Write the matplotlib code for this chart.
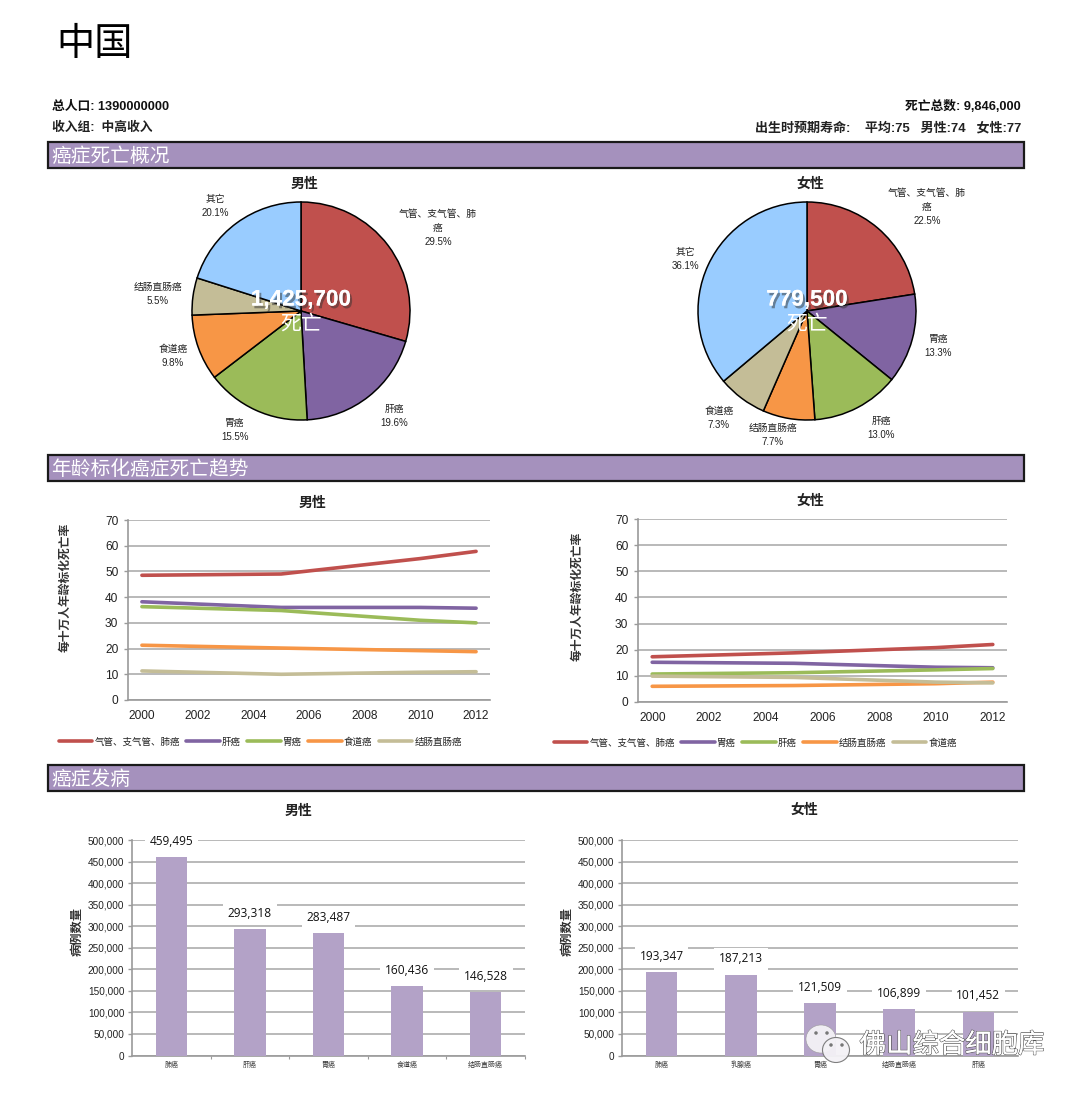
import matplotlib
matplotlib.use('Agg')
import matplotlib.pyplot as plt
import matplotlib.patheffects as pe
from matplotlib.patches import Ellipse, Rectangle

W, H = 1080, 1094
CJK = ['Liberation Sans', 'Noto Sans CJK SC', 'DejaVu Sans']
plt.rcParams['font.family'] = CJK

# Colours
RED, PURPLE, GREEN, ORANGE, TAN, BLUE = '#C0504D', '#8064A2', '#9BBB59', '#F79646', '#C4BD97', '#99CCFF'
BAR = '#B3A2C7'
HEADER = '#A591BD'
GRID = '#ADADAD'

# Pie data
pie_male_labels = ['气管、支气管、肺\n癌', '肝癌', '胃癌', '食道癌', '结肠直肠癌', '其它']
pie_male_values = [29.5, 19.6, 15.5, 9.8, 5.5, 20.1]
pie_female_labels = ['气管、支气管、肺\n癌', '胃癌', '肝癌', '结肠直肠癌', '食道癌', '其它']
pie_female_values = [22.5, 13.3, 13.0, 7.7, 7.3, 36.1]

# Trend data
years = [2000, 2005, 2010, 2012]
year_ticks = [2000, 2002, 2004, 2006, 2008, 2010, 2012]
male_trend_names = ['气管、支气管、肺癌', '肝癌', '胃癌', '食道癌', '结肠直肠癌']
male_lung = [48.5, 49.0, 55.0, 57.8]
male_liver = [38.2, 36.0, 36.0, 35.7]
male_stomach = [36.3, 34.8, 31.0, 30.0]
male_esoph = [21.3, 20.2, 19.2, 18.8]
male_colorectal = [11.3, 10.0, 10.8, 11.0]
female_trend_names = ['气管、支气管、肺癌', '胃癌', '肝癌', '结肠直肠癌', '食道癌']
female_lung = [17.3, 18.8, 20.8, 22.0]
female_stomach = [15.2, 14.8, 13.3, 13.1]
female_liver = [10.7, 11.2, 12.3, 12.8]
female_colorectal = [6.0, 6.3, 7.0, 7.6]
female_esoph = [9.9, 9.4, 7.6, 7.3]

# Incidence data
inc_male_names = ['肺癌', '肝癌', '胃癌', '食道癌', '结肠直肠癌']
inc_male_values = [459495, 293318, 283487, 160436, 146528]
inc_female_names = ['肺癌', '乳腺癌', '胃癌', '结肠直肠癌', '肝癌']
inc_female_values = [193347, 187213, 121509, 106899, 101452]

fig = plt.figure(figsize=(W / 100, H / 100), dpi=100, facecolor='white')


def px_axes(l, t, r, b):
    return fig.add_axes([l / W, 1 - b / H, (r - l) / W, (b - t) / H])


def ptext(x, y, s, **kw):
    kw.setdefault('va', 'center')
    return fig.text(x / W, 1 - y / H, s, **kw)


def style_axes(ax):
    for s in ['top', 'right']:
        ax.spines[s].set_visible(False)
    for s in ['left', 'bottom']:
        ax.spines[s].set_color('#9a9a9a')
        ax.spines[s].set_linewidth(1.2)
    ax.set_axisbelow(True)
    ax.yaxis.grid(True, color=GRID, linewidth=1.2)
    ax.xaxis.grid(False)
    ax.patch.set_alpha(0)


# Page overlay for the header bands
page = fig.add_axes([0, 0, 1, 1], zorder=0)
page.set_xlim(0, W)
page.set_ylim(H, 0)
page.axis('off')

ptext(56, 45, '中国', fontsize=27.5, color='black', family=['Noto Sans CJK SC'])
ptext(52, 107, '总人口: 1390000000', fontsize=9.2, fontweight='bold', color='#111111')
ptext(52, 128, '收入组:  中高收入', fontsize=9.2, fontweight='bold', color='#222222')
ptext(1021, 107, '死亡总数: 9,846,000', fontsize=9.2, fontweight='bold', ha='right', color='#111111')
ptext(1021, 128, '出生时预期寿命:    平均:75   男性:74   女性:77', fontsize=9.4, fontweight='bold', ha='right', color='#222222')

for top, name in [(142, '癌症死亡概况'), (455, '年龄标化癌症死亡趋势'), (765, '癌症发病')]:
    page.add_patch(Rectangle((48, top), 976, 26, facecolor=HEADER, edgecolor='#1a1a1a', linewidth=1.6))
    ptext(51, top + 14, name, fontsize=14.2, color='white', zorder=5)

# Pies
pie_colors = [RED, PURPLE, GREEN, ORANGE, TAN, BLUE]


def draw_pie(cx, cy, values, total, title, tx):
    ax = px_axes(cx - 110, cy - 110, cx + 110, cy + 110)
    ax.pie(values, colors=pie_colors, startangle=90, counterclock=False, radius=109 / 110,
           wedgeprops={'edgecolor': 'black', 'linewidth': 1.1})
    ax.set_xlim(-1, 1)
    ax.set_ylim(-1, 1)
    ptext(tx, 184, title, fontsize=10, fontweight='bold', ha='center', color='#222222')
    ptext(cx, cy - 11, total, fontsize=16.2, fontweight='bold', color='white', ha='center', zorder=6,
          path_effects=[pe.withSimplePatchShadow(offset=(1.5, -2), shadow_rgbFace='#333333', alpha=0.5),
                        pe.Normal()])
    ptext(cx, cy + 13, '死亡', fontsize=15, color='white', ha='center', zorder=6)


draw_pie(301, 311, pie_male_values, '1,425,700', '男性', 304)
draw_pie(807, 311, pie_female_values, '779,500', '女性', 810)

male_label_pos = [(438, 228), (394, 416), (235, 430), (173, 356), (158, 294), (215, 206)]
female_label_pos = [(927, 207), (938, 346), (881, 428), (773, 435), (719, 418), (685, 259)]
for labels, values, spots in [(pie_male_labels, pie_male_values, male_label_pos),
                              (pie_female_labels, pie_female_values, female_label_pos)]:
    for name, v, (x, y) in zip(labels, values, spots):
        ptext(x, y, f'{name}\n{v}%', fontsize=7, ha='center', color='#222222', linespacing=1.45)

# Trend lines
male_series = [male_lung, male_liver, male_stomach, male_esoph, male_colorectal]
female_series = [female_lung, female_stomach, female_liver, female_colorectal, female_esoph]
line_colors = [RED, PURPLE, GREEN, ORANGE, TAN]

trend_setup = [
    ((128, 520, 490, 700), male_series, male_trend_names, '男性', (312, 503), (65, 587), (50, 734)),
    ((638, 519, 1007, 702), female_series, female_trend_names, '女性', (810, 501), (577, 596), (545, 735)),
]
for box, series, names, title, tpos, ypos, lpos in trend_setup:
    ax = px_axes(*box)
    style_axes(ax)
    handles = []
    for vals, c, n in zip(series, line_colors, names):
        line, = ax.plot(years, vals, color=c, linewidth=2.6, label=n, solid_capstyle='round')
        handles.append(line)
    ax.set_xlim(1999.5, 2012.5)
    ax.set_ylim(0, 70)
    ax.set_xticks(year_ticks)
    ax.set_yticks(range(0, 71, 10))
    ax.tick_params(axis='x', length=0, labelsize=8.6, pad=7, labelcolor='#222222')
    ax.tick_params(axis='y', length=3, width=1, color='#9a9a9a', labelsize=8.6, pad=4, labelcolor='#222222')
    ptext(tpos[0], tpos[1], title, fontsize=10, fontweight='bold', ha='center', color='#222222')
    ptext(ypos[0], ypos[1], '每十万人年龄标化死亡率', fontsize=8.5, rotation=90, ha='center', color='#333333', fontweight='bold')
    ax.legend(handles=handles, ncols=5, frameon=False, loc='lower left',
              bbox_to_anchor=(lpos[0] / W, 1 - (lpos[1] + 21) / H), bbox_transform=fig.transFigure,
              prop={'size': 6.8, 'family': CJK}, handlelength=3.55, handletextpad=0.25, columnspacing=0.65,
              borderpad=0.4, labelcolor='#222222')

# Incidence bars
bar_setup = [
    ((132, 840, 525, 1055.5), inc_male_names, inc_male_values, '男性', (298, 811), (78, 932), True),
    ((622, 840, 1018, 1055.5), inc_female_names, inc_female_values, '女性', (804, 810), (567, 932), False),
]
for box, names, values, title, tpos, ypos, edge_ticks in bar_setup:
    ax = px_axes(*box)
    style_axes(ax)
    xs = list(range(len(names)))
    ax.bar(xs, values, width=0.4, color=BAR, zorder=3)
    ax.set_xlim(-0.5, 4.5)
    ax.set_ylim(0, 500000)
    ax.set_yticks(range(0, 500001, 50000))
    ax.set_yticklabels([f'{v:,}' for v in range(0, 500001, 50000)])
    ax.set_xticks(xs)
    ax.set_xticklabels(names)
    if edge_ticks:
        ax.set_xticks([x + 0.5 for x in xs], minor=True)
        ax.tick_params(axis='x', which='minor', length=2, width=0.8, color='#9a9a9a')
    ax.tick_params(axis='x', which='major', length=0, labelsize=5, pad=4.5, labelcolor='#333333')
    ax.tick_params(axis='y', length=3, width=1, color='#9a9a9a', labelsize=7.2, pad=2.5, labelcolor='#222222')
    for x, v in zip(xs, values):
        ax.annotate(f'{v:,}', (x, v), xytext=(0, 11.4), textcoords='offset points', ha='center', va='center',
                    fontsize=8.6, family=['Open Sans'], color='#111111', zorder=4,
                    bbox={'facecolor': 'white', 'edgecolor': 'none', 'pad': 3.5})
    ptext(tpos[0], tpos[1], title, fontsize=10, fontweight='bold', ha='center', color='#222222')
    ptext(ypos[0], ypos[1], '病例数量', fontsize=8.8, fontweight='bold', rotation=90, ha='center', color='#333333')

# Watermark
over = fig.add_axes([0, 0, 1, 1], zorder=10)
over.set_xlim(0, W)
over.set_ylim(H, 0)
over.axis('off')
over.add_patch(Ellipse((821, 1039), 30, 28, facecolor='#F4F2F6', edgecolor='#999999', linewidth=0.4, alpha=0.95))
over.add_patch(Ellipse((836, 1050), 27, 25, facecolor='#F4F2F6', edgecolor='#777777', linewidth=0.8, alpha=0.95))
for x, y in [(816, 1033), (827, 1033), (831, 1045), (842, 1045)]:
    over.add_patch(Ellipse((x, y), 3.5, 3.5, facecolor='#777777', edgecolor='none'))
over.text(952, 1045, '佛山综合细胞库', fontsize=19, ha='center', va='center', color='white',
          family=['Noto Sans CJK SC'],
          path_effects=[pe.withStroke(linewidth=1.0, foreground='#555555'), pe.Normal()])

fig.savefig('out.png', dpi=100, facecolor='white')
